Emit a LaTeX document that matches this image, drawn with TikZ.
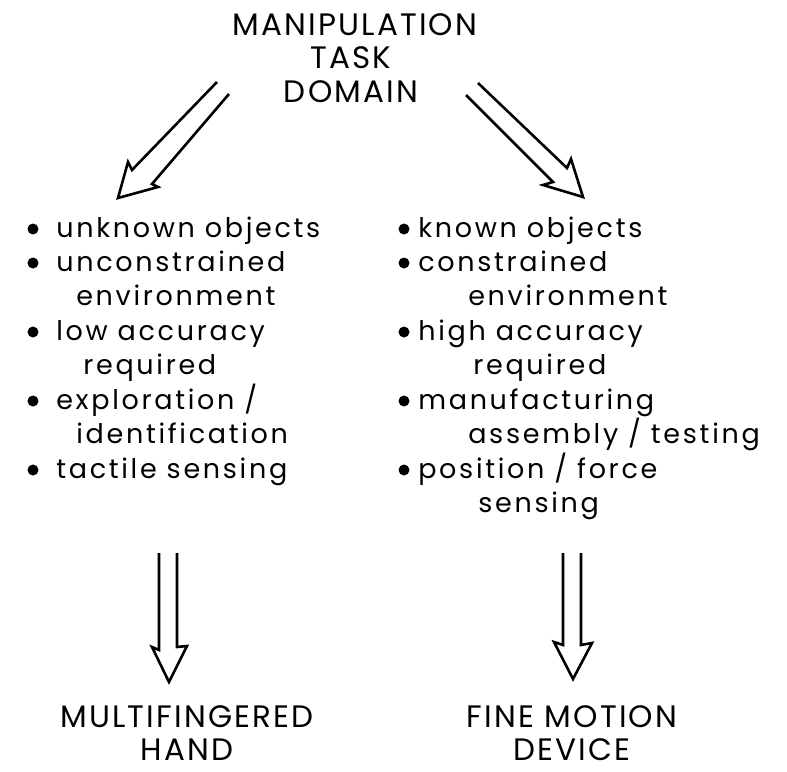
\documentclass[tikz,border=0pt]{standalone}
\usepackage{fontspec}
\setmainfont{Poppins}[LetterSpace=10]
\newfontfamily\capsfont{Poppins}[LetterSpace=7]
\begin{document}
\begin{tikzpicture}[x=1pt, y=-1pt, line width=2.6pt, line join=miter]
\tikzset{
  txt/.style={anchor=base west, inner sep=0pt, font=\fontsize{27}{30}\selectfont},
  heading/.style={anchor=base, inner sep=0pt, font=\capsfont\fontsize{31}{33}\selectfont},
  dot/.style={circle, fill=black, inner sep=0pt, minimum size=11pt}
}
\useasboundingbox (0,0) rectangle (787,771);
% title
\node[heading] (t1) at (355,35) {MANIPULATION};
\node[heading] (t2) at (351,68) {TASK};
\node[heading] (t3) at (351,102) {DOMAIN};
%% arrow left
\coordinate (A) at (217,82) ;
\coordinate (B) at (132,170) ;
\coordinate (C) at (128,162) ;
\coordinate (D) at (118,198) ;
\coordinate (E) at (158,187) ;
\coordinate (F) at (152,184) ;
\coordinate (G) at (229,94) ;
\draw (A) -- (B) -- (C) -- (D) -- (E) -- (F) -- (G) ;
%% arrow right
\coordinate (A) at (466,95) ;
\coordinate (B) at (553,182) ;
\coordinate (C) at (543,185) ;
\coordinate (D) at (583,197) ;
\coordinate (E) at (571,159) ;
\coordinate (F) at (567,168) ;
\coordinate (G) at (478,83) ;
\draw (A) -- (B) -- (C) -- (D) -- (E) -- (F) -- (G) ;
% left list
\node[dot] (b1) at (33,229) {};
\node[txt] (l1) at (55,237) {unknown objects};
\node[dot] (b2) at (33,263) {};
\node[txt] (l2) at (55,271) {unconstrained};
\node[txt] (l3) at (75,305) {environment};
\node[dot] (b3) at (33,332) {};
\node[txt] (l4) at (55,340) {low accuracy};
\node[txt] (l5) at (82,374) {required};
\node[dot] (b4) at (33,401) {};
\node[txt] (l6) at (55,409) {exploration /};
\node[txt] (l7) at (75,443) {identification};
\node[dot] (b5) at (33,470) {};
\node[txt] (l8) at (55,478) {tactile sensing};
% right list
\node[dot] (c1) at (404,229) {};
\node[txt] (r1) at (417,237) {known objects};
\node[dot] (c2) at (404,263) {};
\node[txt] (r2) at (417,271) {constrained};
\node[txt] (r3) at (467,305) {environment};
\node[dot] (c3) at (404,332) {};
\node[txt] (r4) at (417,340) {high accuracy};
\node[txt] (r5) at (472,374) {required};
\node[dot] (c4) at (404,401) {};
\node[txt] (r6) at (417,409) {manufacturing};
\node[txt] (r7) at (467,443) {assembly / testing};
\node[dot] (c5) at (404,470) {};
\node[txt] (r8) at (417,478) {position / force};
\node[txt] (r9) at (477,512) {sensing};
%% arrows down
\coordinate (A) at (159,553) ;
\coordinate (B) at (159,650) ;
\coordinate (C) at (152,647) ;
\coordinate (D) at (169,682) ;
\coordinate (E) at (187,646) ;
\coordinate (F) at (177,647) ;
\coordinate (G) at (177,553) ;
\draw (A) -- (B) -- (C) -- (D) -- (E) -- (F) -- (G) ;
\coordinate (A) at (563,553) ;
\coordinate (B) at (563,645) ;
\coordinate (C) at (554,642) ;
\coordinate (D) at (573,679) ;
\coordinate (E) at (592,643) ;
\coordinate (F) at (581,645) ;
\coordinate (G) at (581,553) ;
\draw (A) -- (B) -- (C) -- (D) -- (E) -- (F) -- (G) ;
% bottom
\node[heading] (h1) at (187,727) {MULTIFINGERED};
\node[heading] (h2) at (187,760) {HAND};
\node[heading] (d1) at (572,727) {FINE MOTION};
\node[heading] (d2) at (572,760) {DEVICE};
\end{tikzpicture}
\end{document}
